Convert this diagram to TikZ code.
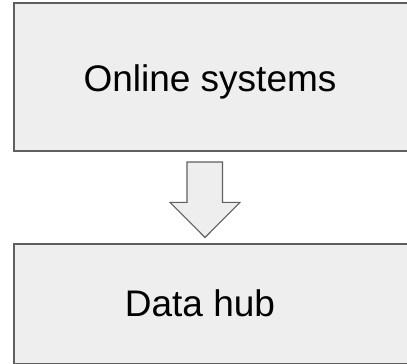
\documentclass[tikz,border=0pt]{standalone}
\usepackage{fontspec}
\setmainfont{Liberation Sans}
\definecolor{boxfill}{HTML}{EEEEEE}
\definecolor{boxline}{HTML}{5F5F5F}
\tikzset{
  block/.style={draw=boxline, fill=boxfill, line width=2pt, rectangle, inner sep=0pt},
  label text/.style={font=\fontsize{37}{44}\selectfont, text=black, inner sep=0pt, anchor=base},
  flow arrow/.style={draw=boxline, fill=boxfill, line width=1.1pt, line join=miter}
}
\begin{document}
\begin{tikzpicture}[x=1pt,y=-1pt]
  \useasboundingbox (0,0) rectangle (407,364);
  \clip (0,0) rectangle (407,364);
  % upper block, running off the right edge
  \node[block, minimum width=397pt, minimum height=147.5pt, anchor=north west] (online) at (13,2) {};
  \node[label text] (onlinetext) at (210,91.5) {Online systems};
  % lower block
  \node[block, minimum width=397pt, minimum height=120pt, anchor=north west] (hub) at (13,243) {};
  \node[label text] (hubtext) at (200,316) {Data hub};
  % hollow down arrow between the blocks
  \draw[flow arrow] (187,162) -- (222.5,162) -- (222.5,202.3) -- (240,202.3)
    -- (205,237.5) -- (170,202.3) -- (187,202.3) -- cycle;
\end{tikzpicture}
\end{document}
